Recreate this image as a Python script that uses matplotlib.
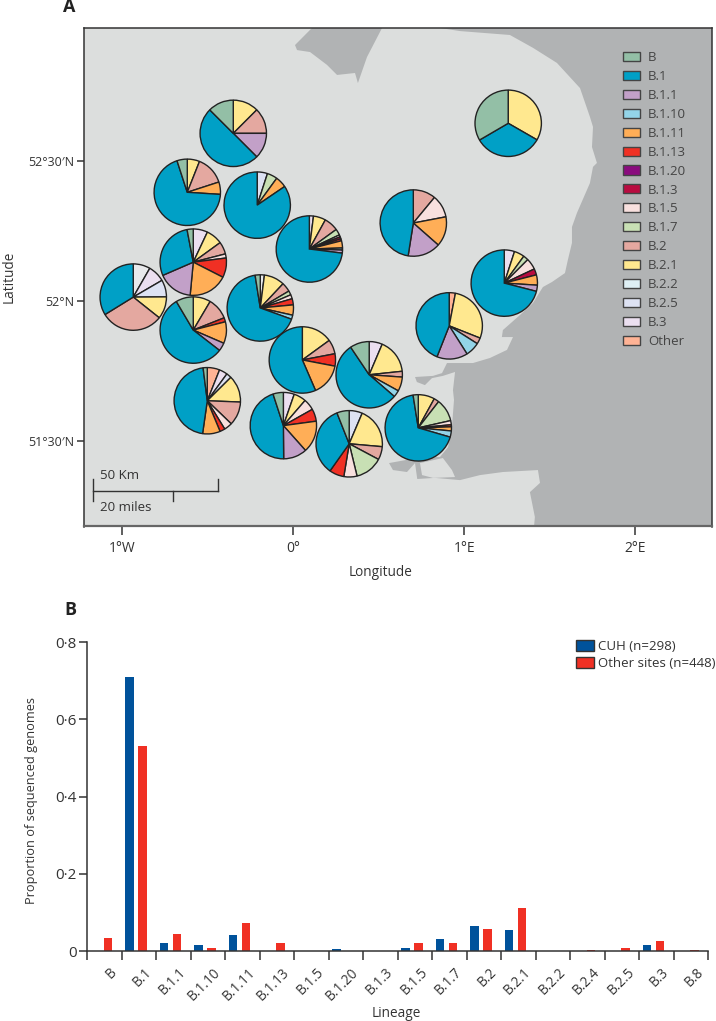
"""East of England lineage map and per-site lineage bars."""

import matplotlib
matplotlib.use("Agg")
import matplotlib.pyplot as plt
from matplotlib.patches import Patch, Polygon
from matplotlib.transforms import ScaledTranslation
import numpy as np

plt.rcParams["font.family"] = ["Open Sans", "DejaVu Sans"]

LEGEND_LINEAGES = ["B", "B.1", "B.1.1", "B.1.10", "B.1.11", "B.1.13", "B.1.20", "B.1.3",
                   "B.1.5", "B.1.7", "B.2", "B.2.1", "B.2.2", "B.2.5", "B.3", "Other"]
LINEAGE_COLOURS = {
    "B": "#93bfa6", "B.1": "#00a0c6", "B.1.1": "#c2a0c8", "B.1.10": "#93d4e8",
    "B.1.11": "#ffae57", "B.1.13": "#f03024", "B.1.20": "#8a0b7e", "B.1.3": "#b90b40",
    "B.1.5": "#f8e0de", "B.1.7": "#c8e0b4", "B.2": "#e4a8a0", "B.2.1": "#ffe88f",
    "B.2.2": "#dff0f5", "B.2.5": "#dde2f3", "B.3": "#ebdff0", "Other": "#ffb395",
    "B.8": "#e8e9eb",
}

SITE_LON = [-0.351, -0.620, -0.211, 0.094, -0.585, -0.936, -0.585, -0.193, 0.053,
            0.444, -0.503, -0.058, 0.327, 1.257, 0.702, 1.234, 0.912, 0.731]
SITE_LAT = [52.600, 52.389, 52.343, 52.186, 52.139, 52.014, 51.896, 51.975, 51.789,
            51.736, 51.643, 51.554, 51.489, 52.636, 52.279, 52.064, 51.911, 51.546]
# shares per site, listed clockwise from 12 o'clock
SITE_SHARES = [
    {"B.2.1": 12.5, "B.2": 12.5, "B.1.1": 12.5, "B.1": 50, "B": 12.5},
    {"B.2.1": 6, "B.2": 14, "B.1.11": 6, "B.1": 69, "B": 5},
    {"B.2.5": 5, "B.1.7": 5, "B.1.11": 5.5, "B.1": 84.5},
    {"B.3": 2, "B.2.1": 6, "B.2": 7, "B.1.7": 3, "B.1.5": 1, "B.1.3": 1, "B.1.13": 1,
     "B.1.11": 3.5, "B.1.10": 1, "B.1.1": 1.5, "B.1": 73},
    {"B.3": 7, "B.2.1": 8, "B.2": 6, "B.1.5": 2, "B.1.13": 9.5, "B.1.11": 19,
     "B.1.1": 17, "B.1": 28.5, "B": 3},
    {"B.8": 8.3, "B.3": 8.3, "B.2.5": 8.3, "B.2.1": 10.8, "B.2": 30.5, "B.1": 33.8},
    {"B.2.1": 8.5, "B.2": 10.5, "B.1.13": 2, "B.1.11": 10.5, "B.1.1": 4, "B.1": 56, "B": 8.5},
    {"B.8": 2, "B.2.1": 10, "B.2": 4.5, "B.1.7": 2, "B.1.5": 2, "B.1.13": 3, "B.1.11": 5,
     "B.1.10": 2, "B.1": 67, "B": 2.5},
    {"B.2.1": 15, "B.2": 7, "B.1.13": 6, "B.1.11": 15.5, "B.1": 56.5},
    {"B.3": 6.4, "B.2.1": 16.9, "B.2": 2.8, "B.1.11": 6.9, "B.1.10": 3.3, "B.1": 54.2, "B": 9.4},
    {"Other": 6, "B.3": 4, "B.2.5": 2.5, "B.2.1": 13, "B.2": 11.5, "B.1.5": 4, "B.1.13": 2.5,
     "B.1.11": 8.5, "B.1": 45.5, "B": 2},
    {"B.3": 5.3, "B.2.1": 6, "B.1.5": 5.5, "B.1.13": 6, "B.1.11": 15.5, "B.1.1": 11.4,
     "B.1": 45, "B": 5},
    {"B.2.5": 6.4, "B.2.1": 20, "B.2": 6.4, "B.1.7": 13.4, "B.1.5": 6.4, "B.1.13": 7.2,
     "B.1": 34.2, "B": 6},
    {"B.2.1": 33.3, "B.1": 33.3, "B": 33.4},
    {"B.2": 11, "B.1.5": 11, "B.1.11": 14.5, "B.1.1": 16, "B.1": 47.5},
    {"B.3": 5, "B.2.1": 5, "B.1.7": 2.5, "B.1.5": 5.5, "B.1.3": 3, "B.1.11": 5, "B.1.1": 3, "B.1": 71},
    {"Other": 3, "B.2.1": 28, "B.2": 3, "B.1.10": 7, "B.1.1": 15, "B.1": 44},
    {"B.2.1": 8, "B.2": 2.5, "B.1.7": 11, "B.1.5": 2, "B.1.13": 1, "B.1.11": 2, "B.1.10": 3,
     "B.1": 68, "B": 2.5},
]

SEA_LON = [0.858, 0.975, 1.267, 1.402, 1.542, 1.677, 1.735, 1.753, 1.747, 1.776, 1.753, 1.735,
           1.659, 1.630, 1.630, 1.606, 1.589, 1.513, 1.460, 1.402, 1.326, 1.226, 1.220, 1.285,
           1.250, 1.150, 1.051, 0.899, 0.870, 0.817, 0.712, 0.723, 0.770, 0.811, 0.875, 0.946,
           0.934, 0.940, 0.928, 0.905, 0.858, 0.723, 0.560, 0.583, 0.665, 0.712, 0.725, 0.829,
           0.975, 1.092, 1.226, 1.431, 1.443, 1.384, 1.413, 1.402, 2.6, 2.6]
SEA_LAT = [52.977, 52.966, 52.952, 52.906, 52.852, 52.762, 52.659, 52.623, 52.551, 52.494, 52.480,
           52.422, 52.315, 52.265, 52.208, 52.147, 52.100, 52.068, 52.050, 51.993, 51.950, 51.896,
           51.871, 51.871, 51.825, 51.796, 51.778, 51.778, 51.742, 51.732, 51.728, 51.710, 51.699,
           51.724, 51.732, 51.746, 51.681, 51.646, 51.549, 51.477, 51.442, 51.438, 51.420, 51.395,
           51.388, 51.420, 51.363, 51.367, 51.359, 51.377, 51.388, 51.395, 51.349, 51.316, 51.227,
           51.15, 51.15, 52.977]
WASH_LON = [0.109, 0.010, 0.022, 0.098, 0.197, 0.256, 0.361, 0.378, 0.431, 0.519]
WASH_LAT = [52.977, 52.916, 52.898, 52.891, 52.845, 52.809, 52.816, 52.780, 52.873, 52.977]
ISLAND_LON = [0.741, 0.875, 0.928, 0.946, 0.817, 0.753]
ISLAND_LAT = [51.420, 51.438, 51.395, 51.370, 51.367, 51.377]

BAR_LINEAGES = ["B", "B.1", "B.1.1", "B.1.10", "B.1.11", "B.1.13", "B.1.5", "B.1.20", "B.1.3",
                "B.1.5", "B.1.7", "B.2", "B.2.1", "B.2.2", "B.2.4", "B.2.5", "B.3", "B.8"]
CUH = [0.001, 0.711, 0.022, 0.015, 0.041, 0, 0, 0.005, 0, 0.008, 0.031, 0.065, 0.054, 0.001, 0, 0.001, 0.015, 0]
OTHER_SITES = [0.033, 0.532, 0.045, 0.009, 0.072, 0.020, 0.001, 0, 0.001, 0.022, 0.020, 0.058, 0.111,
               0.001, 0.002, 0.007, 0.027, 0.002]

W, H = 716, 1021
INK = "#333333"
EDGE = "#222222"


def box(left, top, right, bottom):
    return [left / W, 1 - bottom / H, (right - left) / W, (bottom - top) / H]


def draw_map(fig):
    ax = fig.add_axes(box(83.5, 28, 712, 526.5))
    ax.set_xlim(-1.227, 2.449)
    ax.set_ylim(51.193, 52.977)
    ax.set_facecolor("#dcdedd")
    for lon, lat in [(SEA_LON, SEA_LAT), (WASH_LON, WASH_LAT)]:
        ax.add_patch(Polygon(np.column_stack([lon, lat]), facecolor="#b1b3b4", edgecolor="none"))
    ax.add_patch(Polygon(np.column_stack([ISLAND_LON, ISLAND_LAT]), facecolor="#dcdedd", edgecolor="none"))

    ax.set_xticks([-1, 0, 1, 2], ["1°W", "0°", "1°E", "2°E"])
    ax.set_yticks([51.5, 52, 52.5], ["51°30′N", "52°N", "52°30′N"])
    ax.tick_params(axis="x", length=6.5, width=1.1, color=INK, labelcolor=INK, labelsize=10, pad=4)
    ax.tick_params(axis="y", length=4.8, width=1.1, color=INK, labelcolor=INK, labelsize=9, pad=2)
    for spine in ax.spines.values():
        spine.set_color(INK)
        spine.set_linewidth(1.1)
    ax.spines["bottom"].set_color("#666666")
    ax.spines["bottom"].set_linewidth(1.6)

    # scale bar
    ax.plot([-1.174, -0.443], [51.321, 51.321], color=INK, lw=1)
    ax.plot([-1.174, -1.174], [51.284, 51.363], color=INK, lw=1)
    ax.plot([-0.443, -0.443], [51.321, 51.363], color=INK, lw=1)
    ax.plot([-0.705, -0.705], [51.284, 51.321], color=INK, lw=1)
    ax.text(-1.128, 51.376, "50 Km", color=INK, fontsize=9.5, va="center")
    ax.text(-1.128, 51.262, "20 miles", color=INK, fontsize=9.5, va="center")

    pad = 1.05
    width = 2 * pad * 33.2 / 171
    height = 2 * pad * 33.2 / 279.4
    for lon, lat, shares in zip(SITE_LON, SITE_LAT, SITE_SHARES):
        inset = ax.inset_axes([lon - width / 2, lat - height / 2, width, height], transform=ax.transData)
        inset.pie(list(shares.values()), colors=[LINEAGE_COLOURS[k] for k in shares],
                  startangle=90, counterclock=False,
                  wedgeprops={"edgecolor": EDGE, "linewidth": 1.0})
        inset.set_xlim(-pad, pad)
        inset.set_ylim(-pad, pad)

    handles = [Patch(facecolor=LINEAGE_COLOURS[k], edgecolor="#444444", linewidth=1, label=k)
               for k in LEGEND_LINEAGES]
    ax.legend(handles=handles, loc="upper left", bbox_to_anchor=((623 - 83.5) / 628.5, 1 - (51 - 28) / 498.5),
              frameon=False, fontsize=9.5, labelcolor="#444444", handlelength=1.3, handleheight=0.68,
              handletextpad=0.6, labelspacing=0.45, borderpad=0, borderaxespad=0)


def draw_bars(fig):
    ax = fig.add_axes(box(87.3, 642.3, 708.3, 951))
    x = np.arange(len(BAR_LINEAGES))
    ax.bar(x + 0.217, CUH, width=0.245, color="#00529b", label="CUH (n=298)")
    ax.bar(x + 0.600, OTHER_SITES, width=0.245, color="#f03024", label="Other sites (n=448)")
    ax.set_xlim(0, len(BAR_LINEAGES))
    ax.set_ylim(0, 0.8)
    ax.spines[["top", "right"]].set_visible(False)
    for side in ["left", "bottom"]:
        ax.spines[side].set_color(INK)
        ax.spines[side].set_linewidth(1.1)

    ax.set_yticks([0, 0.2, 0.4, 0.6, 0.8], ["0", "0·2", "0·4", "0·6", "0·8"])
    ax.set_xticks(np.arange(len(BAR_LINEAGES) + 1), [""] * (len(BAR_LINEAGES) + 1))
    ax.set_xticks(x + 0.5, BAR_LINEAGES, minor=True)
    ax.tick_params(axis="y", length=5.8, width=1.1, color=INK, labelcolor=INK, labelsize=11, pad=2)
    ax.tick_params(axis="x", which="major", length=6.5, width=1.1, color=INK)
    ax.tick_params(axis="x", which="minor", length=0, labelcolor=INK, labelsize=9.8, pad=10)
    shift = ScaledTranslation(5 / 100, 0, fig.dpi_scale_trans)
    for label in ax.get_xticklabels(minor=True):
        label.set_rotation(45)
        label.set_ha("right")
        label.set_va("top")
        label.set_rotation_mode("anchor")
        label.set_transform(label.get_transform() + shift)

    ax.legend(loc="upper left", bbox_to_anchor=((576 - 87.3) / 621, 1 + (642.3 - 640) / 308.7),
              frameon=False, fontsize=9.5, labelcolor=INK, handlelength=1.36, handleheight=0.83,
              handletextpad=0.3, labelspacing=0.3, borderpad=0, borderaxespad=0)
    for patch in ax.get_legend().get_patches():
        patch.set_edgecolor("#333333")
        patch.set_linewidth(1)


def main():
    fig = plt.figure(figsize=(W / 100, H / 100), dpi=100)
    draw_map(fig)
    draw_bars(fig)

    fig.text(69 / W, 1 - 7 / H, "A", fontsize=13, fontweight="bold", color="#222222", ha="center", va="center")
    fig.text(70 / W, 1 - 610 / H, "B", fontsize=13, fontweight="bold", color="#222222", ha="center", va="center")
    fig.text(381 / W, 1 - 572 / H, "Longitude", fontsize=9.8, color=INK, ha="center", va="center")
    fig.text(9 / W, 1 - 277 / H, "Latitude", fontsize=9.8, color=INK, rotation=90, ha="center", va="center")
    fig.text(396 / W, 1 - 1013 / H, "Lineage", fontsize=9.8, color=INK, ha="center", va="center")
    fig.text(31 / W, 1 - 800 / H, "Proportion of sequenced genomes", fontsize=9.2, color=INK,
             rotation=90, ha="center", va="center")
    fig.savefig("out.png", dpi=100)


if __name__ == "__main__":
    main()
